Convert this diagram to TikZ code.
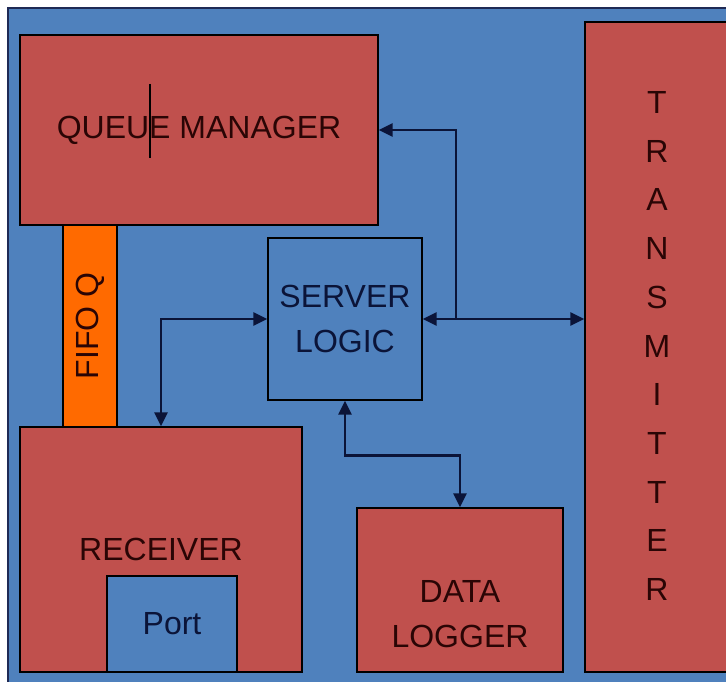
\documentclass[tikz,border=0pt]{standalone}
\usepackage{fontspec}
\setmainfont{Liberation Sans}
\usetikzlibrary{arrows.meta}
\definecolor{bgblue}{HTML}{4F81BD}
\definecolor{boxred}{HTML}{C0504D}
\definecolor{fifoorange}{HTML}{FF6A00}
\definecolor{inkred}{HTML}{2A0505}
\definecolor{inkblue}{HTML}{0B1438}
\definecolor{edge}{HTML}{1F2A55}
\begin{document}
\begin{tikzpicture}[x=1pt,y=-1pt,
  every node/.style={font=\fontsize{32}{45}\selectfont, align=center},
  redbox/.style={draw=black, line width=1.2pt, fill=boxred, text=inkred, inner sep=0pt},
  bluebox/.style={draw=black, line width=1.2pt, fill=bgblue, text=inkblue, inner sep=0pt},
  link/.style={draw=inkblue, line width=2.8pt, {Triangle[length=14pt,width=13pt]}-{Triangle[length=14pt,width=13pt]}},
  onelink/.style={draw=inkblue, line width=2.8pt, -{Triangle[length=14pt,width=13pt]}}]
  % -=-=-=-=- FRAME -=-=-=-=-
  \useasboundingbox (0,0) rectangle (726,682);
  \fill[white] (0,0) rectangle (726,682);
  \begin{scope}
    \clip (0,0) rectangle (726,682);
    \draw[fill=bgblue, draw=edge, line width=2pt] (8,8) rectangle (745,700);
    \node[redbox, minimum width=145pt, minimum height=650pt] (tx) at (657.5,347) {};
  \end{scope}

  % -=-=-=-=- BLOCKS -=-=-=-=-
  \node[redbox, minimum width=358pt, minimum height=190pt] (qm) at (199,130) {QUEUE MANAGER};
  \node[fill=fifoorange, draw=black, line width=1.2pt, text=inkred, inner sep=0pt,
        minimum width=202pt, minimum height=54pt, rotate=90] (fifo) at (90,326) {FIFO Q};
  \node[bluebox, minimum width=154pt, minimum height=162pt] (sl) at (345,319) {SERVER\\LOGIC};
  \node[redbox, minimum width=282pt, minimum height=245pt] (rx) at (161,549.5) {RECEIVER};
  \node[bluebox, minimum width=130pt, minimum height=96pt] (port) at (172,624) {Port};
  \node[redbox, minimum width=206pt, minimum height=164pt] (dl) at (460,590) {};
  \node[text=inkred] (dltext) at (460,614) {DATA\\LOGGER};
  \node[text=inkred, font=\fontsize{32}{48.7}\selectfont] (txtext) at (657,346)
    {T\\R\\A\\N\\S\\M\\I\\T\\T\\E\\R};
  \draw[black, line width=1.2pt] (150,84) -- (150,158);

  % -=-=-=-=- CONNECTORS -=-=-=-=-
  \coordinate (j) at (456,318);
  \draw[link] (sl.east) -- (sl.east -| tx.west);
  \draw[onelink] (j) |- (qm.east);
  \draw[link] (sl.west) -| (rx.north);
  \draw[link] (sl.south) -- ++(0,55) -| (dl.north);
\end{tikzpicture}
\end{document}
